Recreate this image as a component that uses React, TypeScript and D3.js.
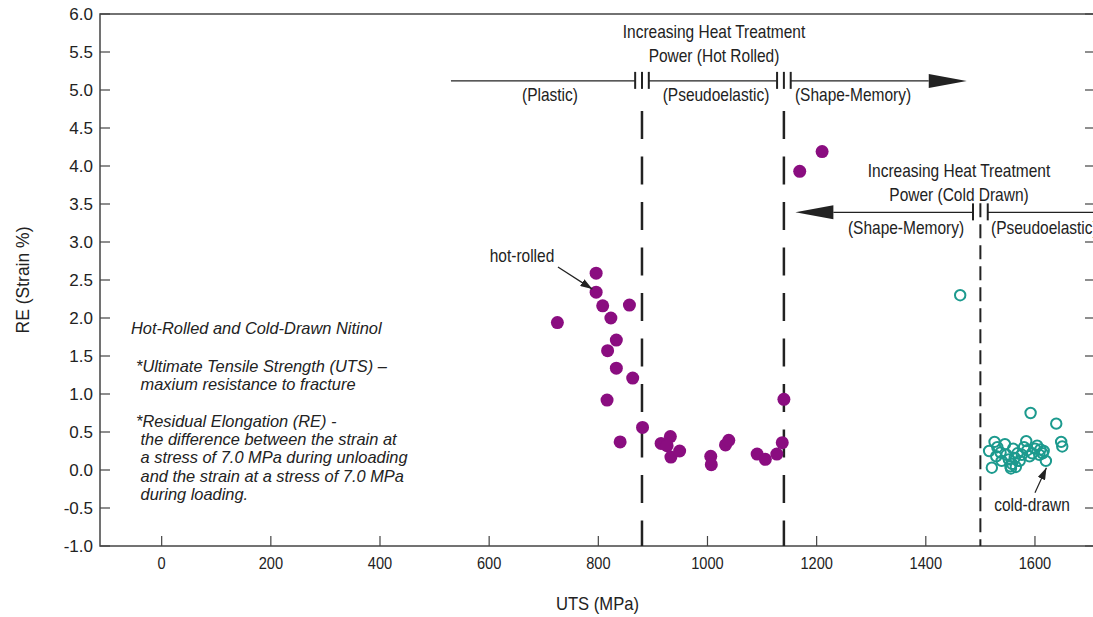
import React from "react";
import * as d3 from "d3";

// ---- Data ----
const hotRolledUTS = [725, 796, 796, 808, 857, 823, 833, 817, 833, 863, 816, 881, 840, 915, 932, 926, 933, 949, 1006, 1007, 1033, 1039, 1091, 1106, 1127, 1137, 1140, 1169, 1210];
const hotRolledRE = [1.94, 2.59, 2.34, 2.16, 2.17, 2.0, 1.71, 1.57, 1.34, 1.21, 0.92, 0.56, 0.37, 0.35, 0.44, 0.32, 0.17, 0.25, 0.18, 0.07, 0.33, 0.39, 0.21, 0.14, 0.21, 0.36, 0.93, 3.93, 4.19];

const coldDrawnUTS = [1463, 1592, 1639, 1648, 1650, 1516, 1521, 1526, 1529, 1531, 1537, 1539, 1545, 1548, 1552, 1555, 1558, 1560, 1563, 1568, 1572, 1576, 1580, 1584, 1586, 1590, 1595, 1600, 1604, 1608, 1610, 1614, 1616, 1620, 1556, 1565];
const coldDrawnRE = [2.3, 0.75, 0.61, 0.37, 0.31, 0.25, 0.03, 0.37, 0.18, 0.3, 0.23, 0.12, 0.34, 0.2, 0.14, 0.05, 0.08, 0.28, 0.16, 0.22, 0.12, 0.2, 0.3, 0.38, 0.26, 0.18, 0.22, 0.28, 0.32, 0.2, 0.27, 0.22, 0.25, 0.12, 0.02, 0.04];

const xTicks = [0, 200, 400, 600, 800, 1000, 1200, 1400, 1600];
const yTicks = [-1.0, -0.5, 0.0, 0.5, 1.0, 1.5, 2.0, 2.5, 3.0, 3.5, 4.0, 4.5, 5.0, 5.5, 6.0];

const hotBoundaries = [880, 1140];
const coldBoundary = 1500;

const infoLines = [
  "Hot-Rolled and Cold-Drawn Nitinol",
  "*Ultimate Tensile Strength (UTS) \u2013",
  " maxium resistance to fracture",
  "*Residual Elongation (RE) -",
  " the difference between the strain at",
  " a stress of 7.0 MPa during unloading",
  " and the strain at a stress of 7.0 MPa",
  " during loading.",
];

// ---- Layout ----
const W = 1093;
const H = 617;
const x = d3.scaleLinear().domain([-113, 1710]).range([100, 1095]);
const y = d3.scaleLinear().domain([-1, 6]).range([546, 14]);

const PURPLE = "#8a0d80";
const TEAL = "#1c9a8e";
const INK = "#222";
const FONT = "'Liberation Sans', Arial, sans-serif";

type CTProps = { x: number; y: number; anchor?: "start" | "middle" | "end"; size?: number; sx?: number; children: React.ReactNode };
function CText({ x: tx, y: ty, anchor = "middle", size = 17.5, sx = 0.885, children }: CTProps) {
  return (
    <text transform={`translate(${tx},${ty}) scale(${sx},1)`} textAnchor={anchor} fontSize={size} fill={INK}>
      {children}
    </text>
  );
}

export default function App() {
  const hot = hotRolledUTS.map((u, i) => ({ u, r: hotRolledRE[i] }));
  const cold = coldDrawnUTS.map((u, i) => ({ u, r: coldDrawnRE[i] }));

  const hotArrowY = y(5.12);
  const coldArrowY = y(3.39);
  const gap = 12.5;

  const hotStart = 530;
  const hotTip = 1475;
  const headLen = 38;
  const coldTip = 1161;
  const coldEnd = 1720;

  const bar = (px: number, cy: number, key: string) => (
    <line key={key} x1={px} x2={px} y1={cy - 9} y2={cy + 8} stroke={INK} strokeWidth={2} />
  );

  return (
    <svg width={W} height={H} style={{ position: "absolute", left: 0, top: 0, background: "#fff" }} fontFamily={FONT}>
      <defs>
        <marker id="ah" viewBox="0 0 12 8" refX="12" refY="4" markerWidth="12" markerHeight="8" markerUnits="userSpaceOnUse" orient="auto">
          <path d="M0,0 L12,4 L0,8 Z" fill={INK} />
        </marker>
      </defs>

      {/* frame */}
      <rect x={x(-113)} y={y(6)} width={x(1710) - x(-113)} height={y(-1) - y(6)} fill="none" stroke="#444" strokeWidth={1.5} />

      {/* x ticks */}
      {xTicks.map((t) => (
        <g key={"xt" + t}>
          <line x1={x(t)} x2={x(t)} y1={y(-1)} y2={y(-1) - 10} stroke="#444" strokeWidth={1.2} />
          <CText x={x(t)} y={y(-1) + 23} size={17} sx={0.86}>{t}</CText>
        </g>
      ))}
      {/* y ticks */}
      {yTicks.map((t) => (
        <g key={"yt" + t}>
          <line x1={x(-113)} x2={x(-113) + 10} y1={y(t)} y2={y(t)} stroke="#444" strokeWidth={1.2} />
          <line x1={x(1710)} x2={x(1710) - 10} y1={y(t)} y2={y(t)} stroke="#444" strokeWidth={1.2} />
          <text x={x(-113) - 7} y={y(t) + 6} textAnchor="end" fontSize={17} fill={INK}>{t.toFixed(1)}</text>
        </g>
      ))}

      {/* axis titles */}
      <CText x={(x(-113) + x(1710)) / 2} y={610} size={17.5} sx={0.95}>UTS (MPa)</CText>
      <text transform={`translate(29,${(y(6) + y(-1)) / 2}) rotate(-90)`} textAnchor="middle" fontSize={17.5} fill={INK}>RE (Strain %)</text>

      {/* boundary dashed lines */}
      {hotBoundaries.map((b) => (
        <line key={"hb" + b} x1={x(b)} x2={x(b)} y1={111} y2={y(-1)} stroke={INK} strokeWidth={2.5} strokeDasharray="28,17.5" />
      ))}
      <line x1={x(coldBoundary)} x2={x(coldBoundary)} y1={y(3.51)} y2={y(-1)} stroke={INK} strokeWidth={2} strokeDasharray="14,7" />

      {/* hot-rolled annotation arrow */}
      <line x1={x(hotStart)} x2={x(hotBoundaries[0] - gap)} y1={hotArrowY} y2={hotArrowY} stroke={INK} strokeWidth={1.3} />
      <line x1={x(hotBoundaries[0] + gap)} x2={x(hotBoundaries[1] - gap)} y1={hotArrowY} y2={hotArrowY} stroke={INK} strokeWidth={1.3} />
      <line x1={x(hotBoundaries[1] + gap)} x2={x(hotTip) - headLen} y1={hotArrowY} y2={hotArrowY} stroke={INK} strokeWidth={1.3} />
      <path d={`M${x(hotTip) - headLen},${hotArrowY - 7} L${x(hotTip)},${hotArrowY} L${x(hotTip) - headLen},${hotArrowY + 7} Z`} fill={INK} />
      {hotBoundaries.map((b) => (
        <g key={"hbar" + b}>
          {bar(x(b - gap), hotArrowY, "a")}
          {bar(x(b), hotArrowY, "b")}
          {bar(x(b + gap), hotArrowY, "c")}
        </g>
      ))}
      <CText x={714} y={38}>Increasing Heat Treatment</CText>
      <CText x={714} y={62}>Power (Hot Rolled)</CText>
      <CText x={550} y={101}>(Plastic)</CText>
      <CText x={716} y={101}>(Pseudoelastic)</CText>
      <CText x={853} y={101}>(Shape-Memory)</CText>

      {/* cold-drawn annotation arrow */}
      <line x1={x(coldTip) + headLen} x2={x(coldBoundary - 13.5)} y1={coldArrowY} y2={coldArrowY} stroke={INK} strokeWidth={1.3} />
      <line x1={x(coldBoundary + 13.5)} x2={x(coldEnd)} y1={coldArrowY} y2={coldArrowY} stroke={INK} strokeWidth={1.3} />
      <path d={`M${x(coldTip) + headLen},${coldArrowY - 7} L${x(coldTip)},${coldArrowY} L${x(coldTip) + headLen},${coldArrowY + 7} Z`} fill={INK} />
      {bar(x(coldBoundary - 13.5), coldArrowY, "cb1")}
      {bar(x(coldBoundary + 13.5), coldArrowY, "cb2")}
      <CText x={959} y={177}>Increasing Heat Treatment</CText>
      <CText x={959} y={201}>Power (Cold Drawn)</CText>
      <CText x={906} y={234}>(Shape-Memory)</CText>
      <CText x={991} y={234} anchor="start">(Pseudoelastic)</CText>

      {/* info text */}
      <g fontSize={16.4} fontStyle="italic" fill={INK}>
        <text x={131} y={334}>{infoLines[0]}</text>
        <text x={136} y={372} xmlSpace="preserve">{infoLines[1]}</text>
        <text x={136} y={390} xmlSpace="preserve">{infoLines[2]}</text>
        <text x={136} y={427} xmlSpace="preserve">{infoLines[3]}</text>
        <text x={136} y={445} xmlSpace="preserve">{infoLines[4]}</text>
        <text x={136} y={463} xmlSpace="preserve">{infoLines[5]}</text>
        <text x={136} y={482} xmlSpace="preserve">{infoLines[6]}</text>
        <text x={136} y={500} xmlSpace="preserve">{infoLines[7]}</text>
      </g>

      {/* data */}
      {hot.map((d, i) => (
        <circle key={"h" + i} cx={x(d.u)} cy={y(d.r)} r={6.5} fill={PURPLE} />
      ))}
      {cold.map((d, i) => (
        <circle key={"c" + i} cx={x(d.u)} cy={y(d.r)} r={5.2} fill="none" stroke={TEAL} strokeWidth={2} />
      ))}

      {/* point labels */}
      <CText x={522} y={262}>hot-rolled</CText>
      <line x1={x(726)} y1={y(2.67)} x2={x(789)} y2={y(2.38)} stroke={INK} strokeWidth={1.2} markerEnd="url(#ah)" />
      <CText x={1032} y={511}>cold-drawn</CText>
      <line x1={x(1600)} y1={y(-0.3)} x2={x(1621)} y2={y(0.03)} stroke={INK} strokeWidth={1.2} markerEnd="url(#ah)" />
    </svg>
  );
}
